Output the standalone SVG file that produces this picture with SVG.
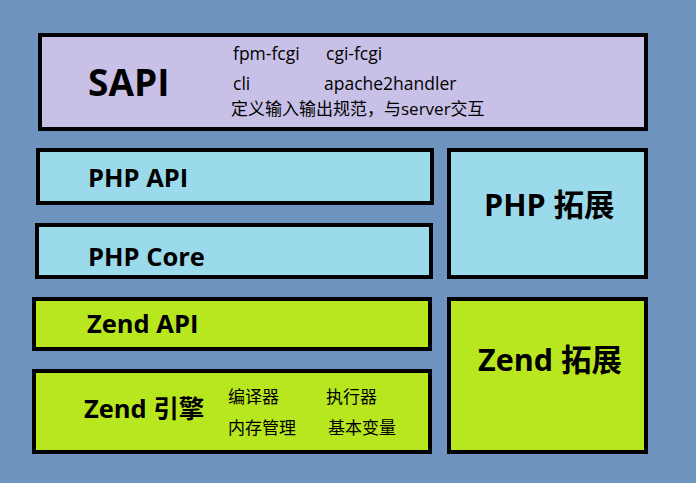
<svg xmlns="http://www.w3.org/2000/svg" width="696" height="483" viewBox="0 0 696 483">
<style>
.box{stroke:#000;stroke-width:4}
.sapi{fill:#c8c0e6}
.php{fill:#9bdaeb}
.zend{fill:#b8e61f}
.t{font-family:"Open Sans","Noto Sans CJK SC",sans-serif;fill:#000}
.b{font-weight:bold}
.s{font-size:17.5px}
.c{font-size:17px}
.h{font-size:25.5px}
.e{font-size:30.5px}
</style>
<rect width="696" height="483" fill="#6f93bf"/>
<g id="sapi">
<rect class="box sapi" x="40" y="35" width="606" height="94"/>
<text class="t b" x="88" y="96" font-size="37">SAPI</text>
<text class="t s" x="233" y="60">fpm-fcgi</text>
<text class="t s" x="326" y="60">cgi-fcgi</text>
<text class="t s" x="233" y="90">cli</text>
<text class="t s" x="324" y="90">apache2handler</text>
<text class="t c" x="231" y="115">定义输入输出规范，与server交互</text>
</g>
<g id="php-api">
<rect class="box php" x="38" y="150" width="394" height="53"/>
<text class="t b h" x="88" y="187">PHP API</text>
</g>
<g id="php-core">
<rect class="box php" x="37" y="225" width="394" height="52"/>
<text class="t b h" x="88" y="266">PHP Core</text>
</g>
<g id="php-ext">
<rect class="box php" x="449" y="150" width="197" height="127"/>
<text class="t b e" x="484" y="216">PHP 拓展</text>
</g>
<g id="zend-api">
<rect class="box zend" x="34" y="299" width="396" height="50"/>
<text class="t b h" x="87" y="333">Zend API</text>
</g>
<g id="zend-engine">
<rect class="box zend" x="34" y="371" width="396" height="81"/>
<text class="t b h" x="84" y="418">Zend 引擎</text>
<text class="t c" x="228" y="403">编译器</text>
<text class="t c" x="326" y="403">执行器</text>
<text class="t c" x="228" y="434">内存管理</text>
<text class="t c" x="328" y="434">基本变量</text>
</g>
<g id="zend-ext">
<rect class="box zend" x="449" y="299" width="197" height="153"/>
<text class="t b e" x="478" y="371">Zend 拓展</text>
</g>
<g id="connectors"></g>
</svg>
